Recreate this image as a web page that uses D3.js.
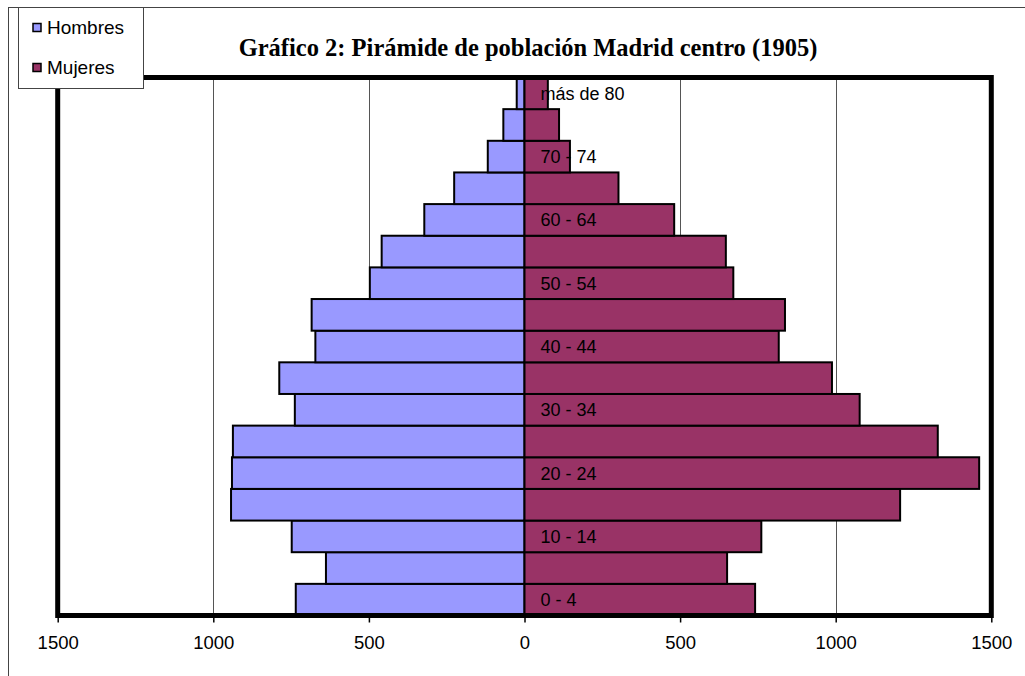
<!DOCTYPE html>
<html lang="es">
<head>
<meta charset="UTF-8">
<title>Pirámide de población</title>
<script src="https://cdn.jsdelivr.net/npm/d3@7"></script>
<style>
body{margin:0;background:#fff;}
text{font-family:Arial,"Liberation Sans",sans-serif;}
text.titulo{font-family:"Times New Roman","Liberation Serif",serif;font-weight:bold;}
</style>
</head>
<body>
<script>
// datos: grupos de edad de abajo (0 - 4) hacia arriba (más de 80)
var ages = ["0 - 4","5 - 9","10 - 14","15 - 19","20 - 24","25 - 29","30 - 34","35 - 39","40 - 44","45 - 49","50 - 54","55 - 59","60 - 64","65 - 69","70 - 74","75 - 79","más de 80"];
var hombres = [735,638,748,943,940,937,738,788,672,684,497,459,322,226,118,68,25];
var mujeres = [741,651,761,1207,1461,1328,1077,988,817,837,671,647,481,302,146,111,75];
var ticks = [-1500,-1000,-500,0,500,1000,1500];
var titulo = "Gráfico 2: Pirámide de población Madrid centro (1905)";

var width = 1025, height = 676;
var plot = {left:57.7, right:991.3, top:77.5, bottom:615.5};

var svg = d3.select("body").append("svg").attr("width",width).attr("height",height);

// marco exterior del gráfico
svg.append("rect").attr("x",8.5).attr("y",7.5).attr("width",width+20).attr("height",height+20)
	.attr("fill","#fff").attr("stroke","#444").attr("stroke-width",1);

var x = d3.scaleLinear().domain([-1500,1500]).range([plot.left,plot.right]);
var y = d3.scaleBand().domain(ages).range([plot.bottom,plot.top]).padding(0);

// área de trazado
svg.append("rect").attr("x",plot.left).attr("y",plot.top)
	.attr("width",plot.right-plot.left).attr("height",plot.bottom-plot.top).attr("fill","#fff");

// líneas de división
svg.append("g").selectAll("line").data([-1000,-500,500,1000]).enter().append("line")
	.attr("x1",function(d){return Math.round(x(d))+0.5;}).attr("x2",function(d){return Math.round(x(d))+0.5;})
	.attr("y1",plot.top).attr("y2",plot.bottom).attr("stroke","#555").attr("stroke-width",1);

// barras hombres (izquierda)
svg.append("g").selectAll("rect").data(hombres).enter().append("rect")
	.attr("x",function(d){return x(-d);})
	.attr("y",function(d,i){return y(ages[i]);})
	.attr("width",function(d){return x(0)-x(-d);})
	.attr("height",y.bandwidth())
	.attr("fill","#9999ff").attr("stroke","#000").attr("stroke-width",2);

// barras mujeres (derecha)
svg.append("g").selectAll("rect").data(mujeres).enter().append("rect")
	.attr("x",x(0))
	.attr("y",function(d,i){return y(ages[i]);})
	.attr("width",function(d){return x(d)-x(0);})
	.attr("height",y.bandwidth())
	.attr("fill","#993366").attr("stroke","#000").attr("stroke-width",2);

// etiquetas de edad (una sí, una no)
svg.append("g").selectAll("text").data(ages.filter(function(d,i){return i%2===0;})).enter().append("text")
	.attr("x",x(0)+16)
	.attr("y",function(d){return y(d)+y.bandwidth()/2;})
	.attr("dy","0.36em")
	.attr("font-size",18).attr("fill","#000")
	.text(function(d){return d;});

// borde grueso del área de trazado
svg.append("rect").attr("x",plot.left).attr("y",plot.top)
	.attr("width",plot.right-plot.left).attr("height",plot.bottom-plot.top)
	.attr("fill","none").attr("stroke","#000").attr("stroke-width",5);

// eje x
var xAxis = d3.axisBottom(x).tickValues(ticks).tickSize(7).tickPadding(13)
	.tickFormat(function(d){return Math.abs(d);});
var gx = svg.append("g").attr("transform","translate(0,"+plot.bottom+")").call(xAxis);
gx.select(".domain").remove();
gx.selectAll(".tick line").attr("stroke","#000").attr("stroke-width",1.5);
gx.selectAll(".tick text").attr("font-size",18.5).attr("fill","#000");

// título
svg.append("text").attr("class","titulo").attr("x",528).attr("y",56).attr("text-anchor","middle")
	.attr("font-size",24.5).attr("fill","#000").text(titulo);

// leyenda
var legend = svg.append("g");
legend.append("rect").attr("x",18.5).attr("y",7.5).attr("width",125).attr("height",81)
	.attr("fill","#fff").attr("stroke","#444").attr("stroke-width",1);
var series = [{name:"Hombres",color:"#9999ff"},{name:"Mujeres",color:"#993366"}];
var items = legend.selectAll("g.item").data(series).enter().append("g").attr("class","item")
	.attr("transform",function(d,i){return "translate(0,"+(i*40)+")";});
items.append("rect").attr("x",33).attr("y",23.5).attr("width",8).attr("height",8)
	.attr("fill",function(d){return d.color;}).attr("stroke","#000").attr("stroke-width",1.5);
items.append("text").attr("x",47).attr("y",34).attr("font-size",19).attr("fill","#000")
	.text(function(d){return d.name;});
</script>
</body>
</html>
